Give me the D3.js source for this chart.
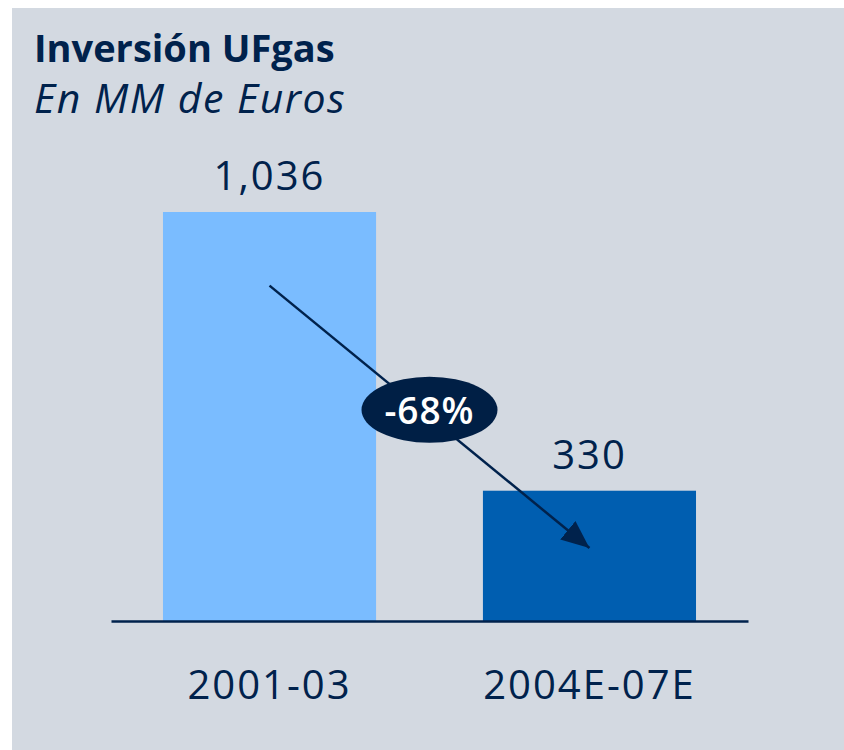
<!DOCTYPE html>
<html>
<head>
<meta charset="utf-8">
<script src="https://cdn.jsdelivr.net/npm/d3@7"></script>
<style>
  body { margin: 0; background: #fff; }
  text { font-family: "Open Sans", "Noto Sans", sans-serif; fill: #00224c; }
</style>
</head>
<body>
<div id="chart"></div>
<script>
// data
var categories = ["2001-03", "2004E-07E"];
var values = [1036, 330];
var valueLabels = ["1,036", "330"];
var changeLabel = "-68%";
var title = "Inversión UFgas";
var subtitle = "En MM de Euros";

var svgWidth = 844;
var svgHeight = 750;

var svg = d3.select("#chart")
  .append("svg")
  .attr("width", svgWidth)
  .attr("height", svgHeight);

// grey panel
svg.append("rect")
  .attr("x", 12)
  .attr("y", 8)
  .attr("width", svgWidth - 12)
  .attr("height", svgHeight - 8)
  .attr("fill", "#d3d9e1");

// titles
svg.append("text")
  .attr("x", 34)
  .attr("y", 62)
  .attr("font-size", 38)
  .attr("font-weight", "bold")
  .text(title);

svg.append("text")
  .attr("x", 34)
  .attr("y", 113)
  .attr("font-size", 41)
  .attr("letter-spacing", 1.5)
  .attr("font-style", "italic")
  .text(subtitle);

// scales
var x = d3.scaleBand()
  .domain(categories)
  .range([111, 748])
  .paddingInner(0.334)
  .paddingOuter(0.1625);

var y = d3.scaleLinear()
  .domain([0, d3.max(values)])
  .range([621, 212]);

var colors = ["#7abcff", "#005eb0"];

// bars
svg.selectAll(".bar")
  .data(values)
  .enter()
  .append("rect")
  .attr("class", "bar")
  .attr("x", (d, i) => x(categories[i]))
  .attr("y", d => y(d))
  .attr("width", x.bandwidth())
  .attr("height", d => y(0) - y(d))
  .attr("fill", (d, i) => colors[i]);

// value labels
svg.selectAll(".val")
  .data(values)
  .enter()
  .append("text")
  .attr("class", "val")
  .attr("x", (d, i) => x(categories[i]) + x.bandwidth() / 2)
  .attr("y", d => y(d) - 22)
  .attr("text-anchor", "middle")
  .attr("font-size", 40)
  .attr("letter-spacing", 2)
  .text((d, i) => valueLabels[i]);

// baseline axis
var xAxis = svg.append("g")
  .attr("transform", `translate(0, ${y(0)})`)
  .call(d3.axisBottom(x).tickSize(0).tickPadding(50));

xAxis.select(".domain")
  .attr("stroke", "#00224c")
  .attr("stroke-width", 2.5);

xAxis.selectAll(".tick text")
  .attr("font-size", 40)
  .attr("letter-spacing", 2)
  .attr("fill", "#00224c")
  .attr("font-family", "\"Open Sans\", sans-serif");

// arrow
svg.append("defs").append("marker")
  .attr("id", "head")
  .attr("markerUnits", "userSpaceOnUse")
  .attr("viewBox", "0 0 28 24")
  .attr("refX", 28)
  .attr("refY", 12)
  .attr("markerWidth", 28)
  .attr("markerHeight", 24)
  .attr("orient", "auto")
  .append("path")
  .attr("d", "M0,0L28,12L0,24Z")
  .attr("fill", "#00224c");

var x1 = x(categories[0]) + x.bandwidth() / 2;
var x2 = x(categories[1]) + x.bandwidth() / 2;

svg.append("line")
  .attr("x1", x1)
  .attr("y1", y(values[0] * 0.82))
  .attr("x2", x2)
  .attr("y2", y(values[1] * 0.56))
  .attr("stroke", "#00224c")
  .attr("stroke-width", 2.5)
  .attr("marker-end", "url(#head)");

// change bubble
var cx = (x1 + x2) / 2;
var cy = y(535);

svg.append("ellipse")
  .attr("cx", cx)
  .attr("cy", cy)
  .attr("rx", 68)
  .attr("ry", 33)
  .attr("fill", "#001f45");

svg.append("text")
  .attr("x", cx)
  .attr("y", cy + 14)
  .attr("text-anchor", "middle")
  .attr("font-size", 37)
  .attr("font-weight", 600)
  .attr("letter-spacing", 1)
  .style("fill", "#fff")
  .text(changeLabel);
</script>
</body>
</html>
